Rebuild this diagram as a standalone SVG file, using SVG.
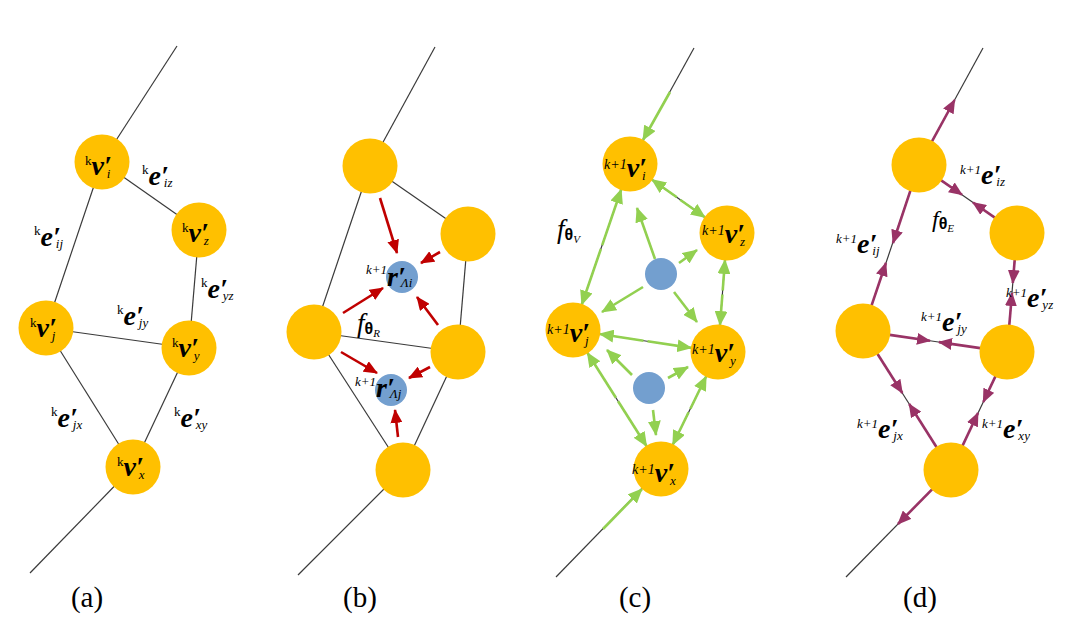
<svg xmlns="http://www.w3.org/2000/svg" width="1091" height="623" viewBox="0 0 1091 623">
<style>
text{font-family:"Liberation Serif","Times New Roman",serif;fill:#000}
.edge{stroke:#3a3a3a;stroke-width:1.2;fill:none}
.node{fill:#FFC000}
.hub{fill:#739FCF}
.red{stroke:#C00000;stroke-width:2.6;fill:none;marker-end:url(#ah-red)}
.grn{stroke:#92D050;stroke-width:2.6;fill:none;marker-end:url(#ah-grn)}
.mag{stroke:#993366;stroke-width:2.6;fill:none;marker-end:url(#ah-mag)}
.b{font-weight:bold;font-style:italic;font-size:28px}
.s{font-style:italic;font-size:13px}
.k{font-size:13px}
.kk{font-style:italic;font-size:13px}
.kc{font-style:italic;font-size:14px}
.f{font-style:italic;font-size:27px}
.th{font-family:"Liberation Sans",Arial,sans-serif;font-weight:bold;font-size:16px}
.ss{font-style:italic;font-size:11px}
.cap{font-size:29px;text-anchor:middle}
</style>
<defs>
<marker id="ah-red" markerUnits="userSpaceOnUse" markerWidth="14" markerHeight="12" viewBox="0 0 14 12" refX="13" refY="6" orient="auto"><path d="M0,0 L14,6 L0,12 z" fill="#C00000"/></marker>
<marker id="ah-grn" markerUnits="userSpaceOnUse" markerWidth="15" markerHeight="13" viewBox="0 0 15 13" refX="14" refY="6.5" orient="auto"><path d="M0,0 L15,6.5 L0,13 z" fill="#92D050"/></marker>
<marker id="ah-mag" markerUnits="userSpaceOnUse" markerWidth="14" markerHeight="12" viewBox="0 0 14 12" refX="13" refY="6" orient="auto"><path d="M0,0 L14,6 L0,12 z" fill="#993366"/></marker>
</defs>

<g id="connectors">
<g class="edge">
<line x1="177" y1="46" x2="102" y2="162"/>
<line x1="102" y1="162" x2="46" y2="328"/>
<line x1="102" y1="162" x2="199" y2="230"/>
<line x1="199" y1="230" x2="189" y2="348"/>
<line x1="46" y1="328" x2="189" y2="348"/>
<line x1="46" y1="328" x2="133" y2="467"/>
<line x1="189" y1="348" x2="133" y2="467"/>
<line x1="133" y1="467" x2="30" y2="573"/>
<line x1="435" y1="47" x2="370" y2="166"/>
<line x1="370" y1="166" x2="314" y2="332"/>
<line x1="370" y1="166" x2="468" y2="234"/>
<line x1="468" y1="234" x2="458" y2="352"/>
<line x1="314" y1="332" x2="458" y2="352"/>
<line x1="314" y1="332" x2="403" y2="470"/>
<line x1="458" y1="352" x2="403" y2="470"/>
<line x1="403" y1="470" x2="298" y2="575"/>
<line x1="694" y1="48" x2="630" y2="164"/>
<line x1="630" y1="164" x2="573" y2="330"/>
<line x1="630" y1="164" x2="727" y2="233"/>
<line x1="727" y1="233" x2="718" y2="352"/>
<line x1="573" y1="330" x2="718" y2="352"/>
<line x1="573" y1="330" x2="661" y2="469"/>
<line x1="718" y1="352" x2="661" y2="469"/>
<line x1="661" y1="469" x2="556" y2="577"/>
<line x1="983" y1="48" x2="919" y2="165"/>
<line x1="919" y1="165" x2="863" y2="331"/>
<line x1="919" y1="165" x2="1017" y2="233"/>
<line x1="1017" y1="233" x2="1007" y2="352"/>
<line x1="863" y1="331" x2="1007" y2="352"/>
<line x1="863" y1="331" x2="951" y2="470"/>
<line x1="1007" y1="352" x2="951" y2="470"/>
<line x1="951" y1="470" x2="846" y2="577"/>
</g>
<line class="red" x1="380" y1="198" x2="397" y2="253"/>
<line class="red" x1="440" y1="252" x2="421" y2="263"/>
<line class="red" x1="343" y1="313" x2="383" y2="288"/>
<line class="red" x1="438" y1="325" x2="417" y2="297"/>
<line class="red" x1="341" y1="352" x2="377" y2="373"/>
<line class="red" x1="430" y1="367" x2="409" y2="378"/>
<line class="red" x1="398" y1="437" x2="395" y2="410"/>
<line class="grn" x1="670" y1="92" x2="643" y2="140"/>
<line class="grn" x1="603" y1="529" x2="642" y2="489"/>
<line class="grn" x1="676.9" y1="197.3" x2="652" y2="179.7"/>
<line class="grn" x1="680.1" y1="199.7" x2="705" y2="217.3"/>
<line class="grn" x1="602.2" y1="245.1" x2="621.2" y2="189.5"/>
<line class="grn" x1="600.9" y1="248.9" x2="581.8" y2="304.5"/>
<line class="grn" x1="722.7" y1="290.5" x2="725" y2="259.9"/>
<line class="grn" x1="722.4" y1="294.5" x2="720" y2="325.1"/>
<line class="grn" x1="643.5" y1="340.7" x2="599.7" y2="334"/>
<line class="grn" x1="647.5" y1="341.3" x2="691.3" y2="347.9"/>
<line class="grn" x1="615.9" y1="397.8" x2="587.4" y2="352.8"/>
<line class="grn" x1="618.1" y1="401.2" x2="646.6" y2="446.2"/>
<line class="grn" x1="690.4" y1="408.7" x2="706.2" y2="376.3"/>
<line class="grn" x1="688.6" y1="412.3" x2="672.8" y2="444.7"/>
<line class="grn" x1="655" y1="259" x2="637" y2="208"/>
<line class="grn" x1="679" y1="263" x2="697" y2="250"/>
<line class="grn" x1="643" y1="287" x2="602" y2="312"/>
<line class="grn" x1="674" y1="292" x2="697" y2="322"/>
<line class="grn" x1="632" y1="375" x2="607" y2="350"/>
<line class="grn" x1="668" y1="378" x2="688" y2="367"/>
<line class="grn" x1="653" y1="410" x2="656" y2="435"/>
<line class="mag" x1="932" y1="141.3" x2="954.6" y2="100"/>
<line class="mag" x1="932.1" y1="489.3" x2="898" y2="524"/>
<line class="mag" x1="941.2" y1="180.4" x2="962" y2="194.8"/>
<line class="mag" x1="994.8" y1="217.6" x2="973" y2="202.5"/>
<line class="mag" x1="910.4" y1="190.6" x2="893" y2="243"/>
<line class="mag" x1="871.6" y1="305.4" x2="885.9" y2="263"/>
<line class="mag" x1="1014.7" y1="259.9" x2="1012.8" y2="283"/>
<line class="mag" x1="1009.3" y1="325.1" x2="1012" y2="293"/>
<line class="mag" x1="889.7" y1="334.9" x2="930" y2="340.8"/>
<line class="mag" x1="980.3" y1="348.1" x2="939" y2="342.1"/>
<line class="mag" x1="877.4" y1="353.8" x2="902.3" y2="393"/>
<line class="mag" x1="936.6" y1="447.2" x2="909.2" y2="404"/>
<line class="mag" x1="995.4" y1="376.4" x2="983.3" y2="402"/>
<line class="mag" x1="962.6" y1="445.6" x2="978" y2="413"/>
</g>

<g id="a-vi"><circle class="node" cx="102" cy="162" r="27.5"/><text x="85" y="175"><tspan class="k" dy="-10">k</tspan><tspan class="b" dy="10">v</tspan><tspan class="b">′</tspan><tspan class="s" dx="-5" dy="3">i</tspan></text></g>
<g id="a-vz"><circle class="node" cx="199" cy="230" r="27.5"/><text x="182" y="242"><tspan class="k" dy="-10">k</tspan><tspan class="b" dy="10">v</tspan><tspan class="b">′</tspan><tspan class="s" dx="-5" dy="3">z</tspan></text></g>
<g id="a-vj"><circle class="node" cx="46" cy="328" r="27.5"/><text x="30" y="337"><tspan class="k" dy="-10">k</tspan><tspan class="b" dy="10">v</tspan><tspan class="b">′</tspan><tspan class="s" dx="-5" dy="3">j</tspan></text></g>
<g id="a-vy"><circle class="node" cx="189" cy="348" r="27.5"/><text x="172" y="357"><tspan class="k" dy="-10">k</tspan><tspan class="b" dy="10">v</tspan><tspan class="b">′</tspan><tspan class="s" dx="-5" dy="3">y</tspan></text></g>
<g id="a-vx"><circle class="node" cx="133" cy="467" r="27.5"/><text x="117" y="476"><tspan class="k" dy="-10">k</tspan><tspan class="b" dy="10">v</tspan><tspan class="b">′</tspan><tspan class="s" dx="-5" dy="3">x</tspan></text></g>
<g id="a-labels">
<text x="142" y="185"><tspan class="k" dy="-11">k</tspan><tspan class="b" dy="11">e</tspan><tspan class="b">′</tspan><tspan class="s" dx="-5" dy="2">iz</tspan></text>
<text x="34" y="246"><tspan class="k" dy="-11">k</tspan><tspan class="b" dy="11">e</tspan><tspan class="b">′</tspan><tspan class="s" dx="-5" dy="2">ij</tspan></text>
<text x="201" y="298"><tspan class="k" dy="-11">k</tspan><tspan class="b" dy="11">e</tspan><tspan class="b">′</tspan><tspan class="s" dx="-5" dy="2">yz</tspan></text>
<text x="117" y="325"><tspan class="k" dy="-11">k</tspan><tspan class="b" dy="11">e</tspan><tspan class="b">′</tspan><tspan class="s" dx="-5" dy="2">jy</tspan></text>
<text x="51" y="427"><tspan class="k" dy="-11">k</tspan><tspan class="b" dy="11">e</tspan><tspan class="b">′</tspan><tspan class="s" dx="-5" dy="2">jx</tspan></text>
<text x="174" y="427"><tspan class="k" dy="-11">k</tspan><tspan class="b" dy="11">e</tspan><tspan class="b">′</tspan><tspan class="s" dx="-5" dy="2">xy</tspan></text>
<text class="cap" x="87" y="607">(a)</text>
</g>

<g id="b-vi"><circle class="node" cx="370" cy="166" r="27.5"/></g>
<g id="b-vz"><circle class="node" cx="468" cy="234" r="27.5"/></g>
<g id="b-vj"><circle class="node" cx="314" cy="332" r="27.5"/></g>
<g id="b-vy"><circle class="node" cx="458" cy="352" r="27.5"/></g>
<g id="b-vx"><circle class="node" cx="403" cy="470" r="27.5"/></g>
<g id="b-ri"><circle class="hub" cx="402" cy="277" r="16"/><text x="366" y="286"><tspan class="kk" dy="-12">k+1</tspan><tspan class="b" dy="12">r</tspan><tspan class="b">′</tspan><tspan class="s" dx="-5" dy="1">Λi</tspan></text></g>
<g id="b-rj"><circle class="hub" cx="391" cy="390" r="16"/><text x="355" y="397"><tspan class="kk" dy="-11">k+1</tspan><tspan class="b" dy="11">r</tspan><tspan class="b">′</tspan><tspan class="s" dx="-5" dy="1">Λj</tspan></text></g>
<g id="b-labels">
<text x="357" y="332"><tspan class="f">f</tspan><tspan class="th" dy="2">θ</tspan><tspan class="ss" dy="3">R</tspan></text>
<text class="cap" x="360" y="607">(b)</text>
</g>

<g id="c-vi"><circle class="node" cx="630" cy="164" r="27.5"/><text x="604" y="177"><tspan class="kc" dy="-8">k+1</tspan><tspan class="b" dy="8">v</tspan><tspan class="b">′</tspan><tspan class="s" dx="-5" dy="3">i</tspan></text></g>
<g id="c-vz"><circle class="node" cx="727" cy="233" r="27.5"/><text x="702" y="243"><tspan class="kc" dy="-8">k+1</tspan><tspan class="b" dy="8">v</tspan><tspan class="b">′</tspan><tspan class="s" dx="-5" dy="3">z</tspan></text></g>
<g id="c-vj"><circle class="node" cx="573" cy="330" r="27.5"/><text x="547" y="342"><tspan class="kc" dy="-8">k+1</tspan><tspan class="b" dy="8">v</tspan><tspan class="b">′</tspan><tspan class="s" dx="-5" dy="3">j</tspan></text></g>
<g id="c-vy"><circle class="node" cx="718" cy="352" r="27.5"/><text x="692" y="362"><tspan class="kc" dy="-8">k+1</tspan><tspan class="b" dy="8">v</tspan><tspan class="b">′</tspan><tspan class="s" dx="-5" dy="3">y</tspan></text></g>
<g id="c-vx"><circle class="node" cx="661" cy="469" r="27.5"/><text x="632" y="482"><tspan class="kc" dy="-8">k+1</tspan><tspan class="b" dy="8">v</tspan><tspan class="b">′</tspan><tspan class="s" dx="-5" dy="3">x</tspan></text></g>
<g id="c-h1"><circle class="hub" cx="661" cy="274" r="16"/></g>
<g id="c-h2"><circle class="hub" cx="649" cy="388" r="16"/></g>
<g id="c-labels">
<text x="557" y="238"><tspan class="f">f</tspan><tspan class="th" dy="2">θ</tspan><tspan class="ss" dy="3">V</tspan></text>
<text class="cap" x="635" y="607">(c)</text>
</g>

<g id="d-vi"><circle class="node" cx="919" cy="165" r="27.5"/></g>
<g id="d-vz"><circle class="node" cx="1017" cy="233" r="27.5"/></g>
<g id="d-vj"><circle class="node" cx="863" cy="331" r="27.5"/></g>
<g id="d-vy"><circle class="node" cx="1007" cy="352" r="27.5"/></g>
<g id="d-vx"><circle class="node" cx="951" cy="470" r="27.5"/></g>
<g id="d-labels">
<text x="960" y="184"><tspan class="kk" dy="-10">k+1</tspan><tspan class="b" dy="10">e</tspan><tspan class="b">′</tspan><tspan class="s" dx="-5" dy="2">iz</tspan></text>
<text x="836" y="253"><tspan class="kk" dy="-10">k+1</tspan><tspan class="b" dy="10">e</tspan><tspan class="b">′</tspan><tspan class="s" dx="-5" dy="2">ij</tspan></text>
<text x="1006" y="307"><tspan class="kk" dy="-10">k+1</tspan><tspan class="b" dy="10">e</tspan><tspan class="b">′</tspan><tspan class="s" dx="-5" dy="2">yz</tspan></text>
<text x="921" y="331"><tspan class="kk" dy="-10">k+1</tspan><tspan class="b" dy="10">e</tspan><tspan class="b">′</tspan><tspan class="s" dx="-5" dy="2">jy</tspan></text>
<text x="857" y="438"><tspan class="kk" dy="-10">k+1</tspan><tspan class="b" dy="10">e</tspan><tspan class="b">′</tspan><tspan class="s" dx="-5" dy="2">jx</tspan></text>
<text x="982" y="438"><tspan class="kk" dy="-10">k+1</tspan><tspan class="b" dy="10">e</tspan><tspan class="b">′</tspan><tspan class="s" dx="-5" dy="2">xy</tspan></text>
<text x="932" y="227"><tspan class="f" style="font-size:24px">f</tspan><tspan class="th" dy="2">θ</tspan><tspan class="ss" dy="3">E</tspan></text>
<text class="cap" x="920" y="607">(d)</text>
</g>
</svg>
